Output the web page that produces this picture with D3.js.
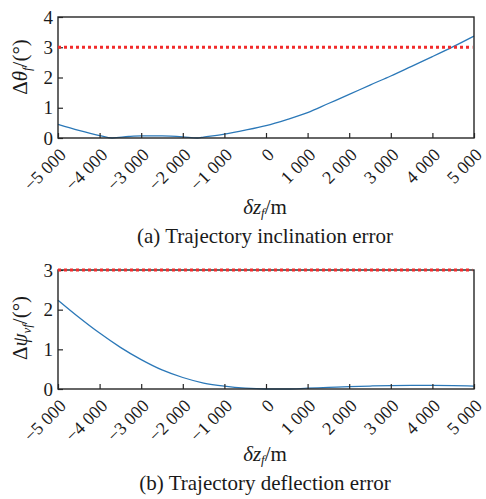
<!DOCTYPE html>
<html>
<head>
<meta charset="utf-8">
<script src="https://cdn.jsdelivr.net/npm/d3@7"></script>
<style>
  body { margin: 0; background: #fff; }
  svg text { font-family: "Liberation Serif", "Times New Roman", Times, serif; fill: #1a1a1a; }
</style>
</head>
<body>
<div id="g"></div>
<script>
// dz_f values (m)
var xTicks = [-5000, -4000, -3000, -2000, -1000, 0, 1000, 2000, 3000, 4000, 5000];

// (a) trajectory inclination error
var incX = [-5000, -4500, -4000, -3700, -3300, -3000, -2500, -2000, -1650, -1500, -1000, -500, 0, 500, 1000, 1500, 2000, 2500, 3000, 3500, 4000, 4500, 5000];
var incY = [0.45, 0.25, 0.08, 0.0, 0.05, 0.07, 0.07, 0.04, 0.0, 0.03, 0.13, 0.26, 0.41, 0.61, 0.84, 1.14, 1.44, 1.75, 2.05, 2.37, 2.69, 3.02, 3.37];
var incTicks = [0, 1, 2, 3, 4];

// (b) trajectory deflection error
var defX = [-5000, -4500, -4000, -3500, -3000, -2500, -2000, -1500, -1000, -500, 0, 500, 1000, 1500, 2000, 2500, 3000, 3500, 4000, 4500, 5000];
var defY = [2.24, 1.81, 1.41, 1.05, 0.74, 0.48, 0.29, 0.15, 0.07, 0.02, 0.0, 0.0, 0.02, 0.04, 0.06, 0.075, 0.085, 0.09, 0.09, 0.085, 0.075];
var defTicks = [0, 1, 2, 3];

var limit = 3; // allowed error (deg)

var W = 486, H = 499;
var BLUE = "#2b78b8", RED = "#f22b2b", AXIS = "#262626";
var FONT = "'Liberation Serif', 'Times New Roman', Times, serif";

var loc = d3.formatLocale({decimal: ".", thousands: " ", grouping: [3], currency: ["", ""], minus: "\u2212"});
var fmt = loc.format(",d");

var svg = d3.select("#g").append("svg")
    .attr("width", W)
    .attr("height", H)
    .attr("font-family", FONT);

function drawPanel(o) {
    var x = d3.scaleLinear().domain([-5000, 5000]).range([58, 474]);
    var y = d3.scaleLinear().domain([0, o.ymax]).range([o.bottom, o.top]);
    var g = svg.append("g");

    // curve
    var pts = o.xs.map(function(v, i) { return [v, o.ys[i]]; });
    g.append("path")
        .datum(pts)
        .attr("fill", "none")
        .attr("stroke", BLUE)
        .attr("stroke-width", 1.3)
        .attr("d", d3.line()
            .x(function(d) { return x(d[0]); })
            .y(function(d) { return y(d[1]); })
            .curve(d3.curveMonotoneX));

    // axes (ticks inward)
    var xa = g.append("g")
        .attr("transform", "translate(0," + o.bottom + ")")
        .call(d3.axisBottom(x).tickValues(xTicks).tickSize(-5).tickFormat(""));
    xa.select(".domain").remove();
    xa.selectAll("line").attr("stroke", AXIS).attr("stroke-width", 1.2);

    var ya = g.append("g")
        .attr("transform", "translate(58,0)")
        .call(d3.axisLeft(y).tickValues(o.yticks).tickSize(-5).tickFormat(""));
    ya.select(".domain").remove();
    ya.selectAll("line").attr("stroke", AXIS).attr("stroke-width", 1.2);

    // box
    g.append("rect")
        .attr("x", 58).attr("y", o.top)
        .attr("width", 474 - 58).attr("height", o.bottom - o.top)
        .attr("fill", "none")
        .attr("stroke", AXIS)
        .attr("stroke-width", 1.4);

    // limit line
    g.append("line")
        .attr("x1", x(-5000)).attr("x2", x(4960))
        .attr("y1", y(limit)).attr("y2", y(limit))
        .attr("stroke", RED)
        .attr("stroke-width", 3)
        .attr("stroke-dasharray", "3,3");

    // x tick labels, rotated
    g.selectAll(".xl")
        .data(xTicks)
        .enter()
        .append("text")
        .attr("class", "xl")
        .attr("text-anchor", "end")
        .attr("font-family", FONT)
        .attr("font-size", 18)
        .attr("transform", function(d) {
            return "translate(" + (x(d) + 9) + "," + (o.bottom + 18) + ") rotate(-45)";
        })
        .text(function(d) { return fmt(d); });

    // y tick labels
    g.selectAll(".yl")
        .data(o.yticks)
        .enter()
        .append("text")
        .attr("class", "yl")
        .attr("text-anchor", "end")
        .attr("font-family", FONT)
        .attr("font-size", 19)
        .attr("x", 53)
        .attr("y", function(d) { return y(d) + 6.5; })
        .text(function(d) { return d; });

    // y label
    var yl = g.append("text")
        .attr("text-anchor", "middle")
        .attr("font-family", FONT)
        .attr("font-size", 21)
        .attr("transform", "translate(27," + o.ylabelY + ") rotate(-90)");
    yl.append("tspan").text("\u0394");
    yl.append("tspan").attr("font-style", "italic").text(o.sym);
    yl.append("tspan").attr("font-style", "italic").attr("font-size", 13).attr("dy", 4).text(o.sub);
    yl.append("tspan").attr("dy", -4).text("/(\u00b0)");

    // x label
    var xl = g.append("text")
        .attr("text-anchor", "middle")
        .attr("font-family", FONT)
        .attr("font-size", 21)
        .attr("x", 265)
        .attr("y", o.labelY);
    xl.append("tspan").attr("font-style", "italic").text("\u03b4z");
    xl.append("tspan").attr("font-style", "italic").attr("font-size", 13).attr("dy", 3).text("f");
    xl.append("tspan").attr("dy", -3).text("/m");

    // caption
    g.append("text")
        .attr("text-anchor", "middle")
        .attr("font-family", FONT)
        .attr("font-size", 21)
        .attr("x", 265)
        .attr("y", o.captionY)
        .text(o.caption);
}

drawPanel({xs: incX, ys: incY, ymax: 4, yticks: incTicks, top: 17, bottom: 138,
    sym: "\u03b8", sub: "f", ylabelY: 67, labelY: 214, captionY: 243,
    caption: "(a) Trajectory inclination error"});

drawPanel({xs: defX, ys: defY, ymax: 3, yticks: defTicks, top: 270, bottom: 389,
    sym: "\u03c8", sub: "vf", ylabelY: 328, labelY: 461, captionY: 490,
    caption: "(b) Trajectory deflection error"});
</script>
</body>
</html>
